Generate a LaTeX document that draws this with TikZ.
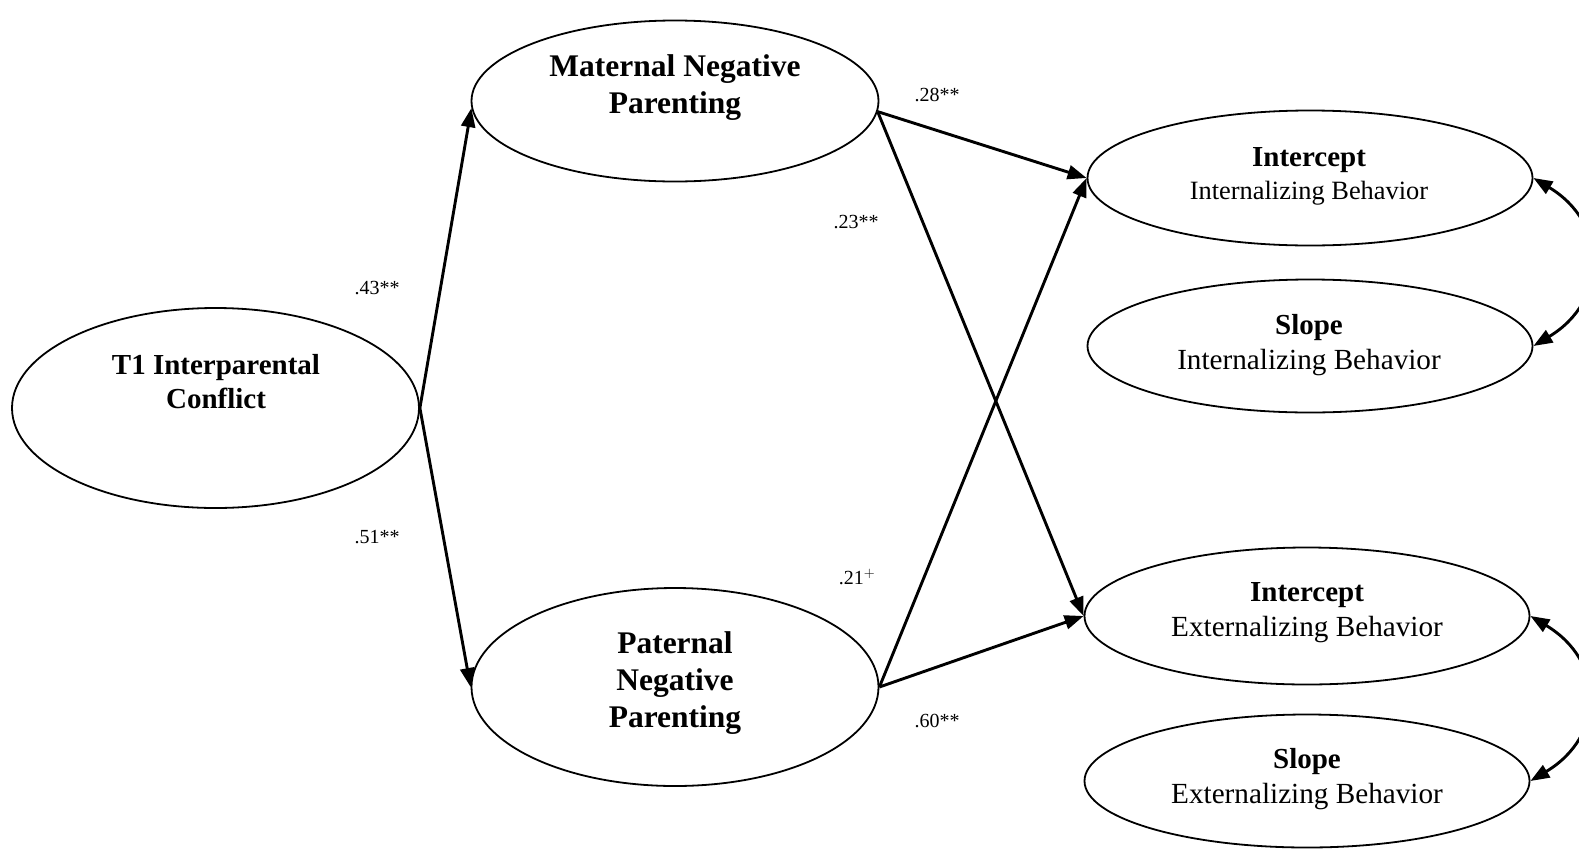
\documentclass[tikz,border=0pt]{standalone}
\usepackage{fontspec}
\setmainfont{Liberation Serif}
\usetikzlibrary{arrows.meta,shapes.geometric}
\begin{document}
\begin{tikzpicture}[x=1pt,y=-1pt,
  ell/.style={draw, line width=1.8pt, ellipse, inner sep=0pt},
  tip/.style={-{Triangle[length=19pt,width=14pt]}},
  path/.style={line width=2.9pt, tip},
  bi/.style={line width=2.9pt, {Triangle[length=19pt,width=14pt]}-{Triangle[length=19pt,width=14pt]}},
  lbl/.style={font=\fontsize{20}{24}\selectfont},
  big/.style={font=\fontsize{31.5}{37}\selectfont\bfseries, align=center},
  med/.style={font=\fontsize{29}{34}\selectfont\bfseries, align=center},
  two/.style={font=\fontsize{26.4}{33}\selectfont, align=center},
  twob/.style={font=\fontsize{29.2}{35}\selectfont, align=center}]
\useasboundingbox (0,0) rectangle (1579,849);

% ellipses
\node[ell, minimum width=407pt, minimum height=200pt] (t1) at (215.5,408) {};
\node[ell, minimum width=407pt, minimum height=161pt] (mat) at (675,101) {};
\node[ell, minimum width=407pt, minimum height=198pt] (pat) at (675,687) {};
\node[ell, minimum width=445pt, minimum height=135pt] (ii) at (1310,178) {};
\node[ell, minimum width=445pt, minimum height=133pt] (si) at (1310,346) {};
\node[ell, minimum width=445pt, minimum height=137pt] (ie) at (1307,616) {};
\node[ell, minimum width=445pt, minimum height=133pt] (se) at (1307,781) {};

% texts
\node[med] (t1t) at (216,382) {T1 Interparental\\Conflict};
\node[big] (matt) at (675,88) {Maternal Negative\\Parenting};
\node[big] (patt) at (675,683) {Paternal\\Negative\\Parenting};
\node[two] (iit) at (1309,176) {{\fontsize{29}{33}\selectfont\bfseries Intercept}\\Internalizing Behavior};
\node[twob] (sit) at (1309,345) {{\fontsize{29}{35}\selectfont\bfseries Slope}\\Internalizing Behavior};
\node[twob] (iet) at (1307,613) {{\fontsize{29}{35}\selectfont\bfseries Intercept}\\Externalizing Behavior};
\node[twob] (set) at (1307,779) {{\fontsize{29}{35}\selectfont\bfseries Slope}\\Externalizing Behavior};

% paths
\draw[path] (t1.east) -- (mat.182);
\draw[path] (t1.east) -- (pat.west);
\draw[path] (mat.-3) -- (ii.west);
\draw[path] (mat.-3) -- (ie.west);
\draw[path] (pat.east) -- (ii.west);
\draw[path] (pat.east) -- (ie.west);

% covariances
\draw[bi] (ii.east) .. controls +(75,45) and +(75,-45) .. (si.east);
\draw[bi] (ie.east) .. controls +(75,45) and +(75,-45) .. (se.east);

% labels
\node[lbl] (l43) at (377,288) {.43**};
\node[lbl] (l51) at (377,537) {.51**};
\node[lbl] (l28) at (937,95) {.28**};
\node[lbl] (l23) at (856,222) {.23**};
\node[lbl] (l21) at (857,577) {.21$^{+}$};
\node[lbl] (l60) at (937,721) {.60**};
\end{tikzpicture}
\end{document}
